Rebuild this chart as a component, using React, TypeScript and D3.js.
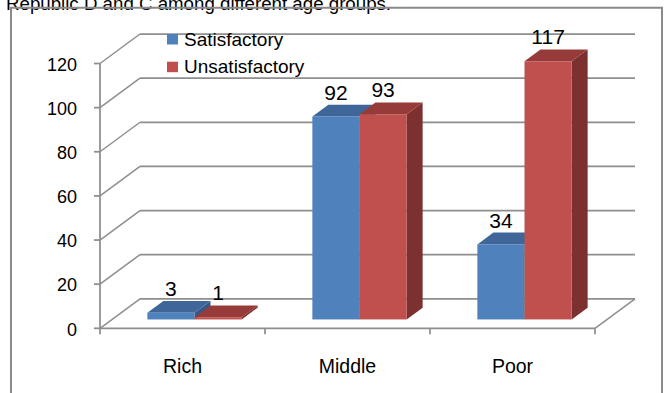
import React from "react";
import * as d3 from "d3";

// Survey results by income group
const categories = ["Rich", "Middle", "Poor"];
const seriesNames = ["Satisfactory", "Unsatisfactory"];
const satisfactory = [3, 92, 34];
const unsatisfactory = [1, 93, 117];
const yTicks = [0, 20, 40, 60, 80, 100, 120];
const titleText = "Republic D and C among different age groups.";

const W = 668;
const H = 393;
const FONT = "'Liberation Sans', Arial, sans-serif";

// Face colours per series: front, top, side
const palette = [
  { front: "#4F81BD", top: "#3E6699", side: "#345887" },
  { front: "#C0504D", top: "#963B39", side: "#7C302F" },
];

const GRID = "#8E8E8E";

// Depth of the 3D plot box and where the bars sit within it
const DEPTH_X = 40;
const DEPTH_Y = -29.5;
const BAR_FRONT = 0.3;
const BAR_BACK = 0.7;

export default function App() {
  const x0 = d3.scaleBand<string>().domain(categories).range([100, 595]).padding(0);
  const x1 = d3
    .scaleBand<string>()
    .domain(seriesNames)
    .range([0, x0.bandwidth()])
    .paddingInner(0)
    .paddingOuter(0.75);
  const y = d3.scaleLinear().domain([0, 120]).range([328.3, 63.5]);

  const values = [satisfactory, unsatisfactory];
  const fdx = DEPTH_X * BAR_FRONT;
  const fdy = DEPTH_Y * BAR_FRONT;
  const bdx = DEPTH_X * BAR_BACK;
  const bdy = DEPTH_Y * BAR_BACK;
  const left = x0.range()[0];
  const right = x0.range()[1];
  const y0 = y(0);

  const pts = (p: [number, number][]) => p.map((q) => q.join(",")).join(" ");

  const bars: React.ReactNode[] = [];
  categories.forEach((cat, ci) => {
    seriesNames.forEach((s, si) => {
      const v = values[si][ci];
      const xl = (x0(cat) as number) + (x1(s) as number);
      const xr = xl + x1.bandwidth();
      const yt = y(v);
      const c = palette[si];
      // front face corners
      const fl = xl + fdx;
      const fr = xr + fdx;
      const ft = yt + fdy;
      const fb = y0 + fdy;
      // back offsets
      const bl = xl + bdx;
      const br = xr + bdx;
      const bt = yt + bdy;
      const bb = y0 + bdy;
      bars.push(
        <g key={`${cat}-${s}`}>
          <polygon points={pts([[fr, ft], [br, bt], [br, bb], [fr, fb]])} fill={c.side} />
          <polygon points={pts([[fl, ft], [bl, bt], [br, bt], [fr, ft]])} fill={c.top} />
          <rect x={fl} y={ft} width={fr - fl} height={fb - ft} fill={c.front} />
          <text
            x={(fl + fr) / 2}
            y={ft - 16.8}
            textAnchor="middle"
            fontSize={21}
            fontFamily={FONT}
            fill="#000"
          >
            {v}
          </text>
        </g>
      );
    });
  });

  return (
    <svg
      width={W}
      height={H}
      style={{ position: "absolute", left: 0, top: 0, display: "block", background: "#fff" }}
    >
      {/* caption line above the chart, partly above the top edge */}
      <text x={6} y={9.5} fontSize={18.7} fontFamily={FONT} fill="#000">
        {titleText}
      </text>

      {/* chart frame */}
      <path d={`M11,${H + 5} V7.7 H662 V${H + 5}`} fill="none" stroke="#8A8A8A" strokeWidth={2} />

      {/* back wall gridlines and side wall diagonals */}
      {yTicks.map((t) => (
        <g key={`g${t}`}>
          <line
            x1={left + DEPTH_X}
            x2={right + DEPTH_X}
            y1={y(t) + DEPTH_Y}
            y2={y(t) + DEPTH_Y}
            stroke={GRID}
            strokeWidth={1.75}
          />
          <line
            x1={left}
            x2={left + DEPTH_X}
            y1={y(t)}
            y2={y(t) + DEPTH_Y}
            stroke={GRID}
            strokeWidth={1.5}
          />
        </g>
      ))}

      {/* floor edges */}
      <line x1={left} x2={right} y1={y0} y2={y0} stroke={GRID} strokeWidth={1.75} />
      <line x1={right} x2={right + DEPTH_X} y1={y0} y2={y0 + DEPTH_Y} stroke={GRID} strokeWidth={1.5} />

      {/* value axis */}
      <line x1={left} x2={left} y1={y(120)} y2={y0} stroke={GRID} strokeWidth={1.75} />
      {yTicks.map((t) => (
        <g key={`t${t}`}>
          <line x1={left - 6} x2={left} y1={y(t)} y2={y(t)} stroke={GRID} strokeWidth={1.75} />
          <text
            x={77}
            y={y(t) + 7.2}
            textAnchor="end"
            fontSize={18}
            fontFamily={FONT}
            fill="#000"
          >
            {t}
          </text>
        </g>
      ))}

      {/* category axis ticks and labels */}
      {[...categories.map((c) => x0(c) as number), right].map((xv, i) => (
        <line key={`ct${i}`} x1={xv} x2={xv} y1={y0} y2={y0 + 6} stroke={GRID} strokeWidth={1.75} />
      ))}
      {categories.map((c) => (
        <text
          key={`cl${c}`}
          x={(x0(c) as number) + x0.bandwidth() / 2}
          y={372.5}
          textAnchor="middle"
          fontSize={19.5}
          fontFamily={FONT}
          fill="#000"
        >
          {c}
        </text>
      ))}

      {bars}

      {/* legend */}
      {seriesNames.map((s, i) => (
        <g key={`lg${s}`} transform={`translate(167, ${34 + i * 27.7})`}>
          <rect x={0} y={0} width={11} height={10.5} fill={palette[i].front} />
          <text x={17} y={11.7} fontSize={19} fontFamily={FONT} fill="#000">
            {s}
          </text>
        </g>
      ))}
    </svg>
  );
}
